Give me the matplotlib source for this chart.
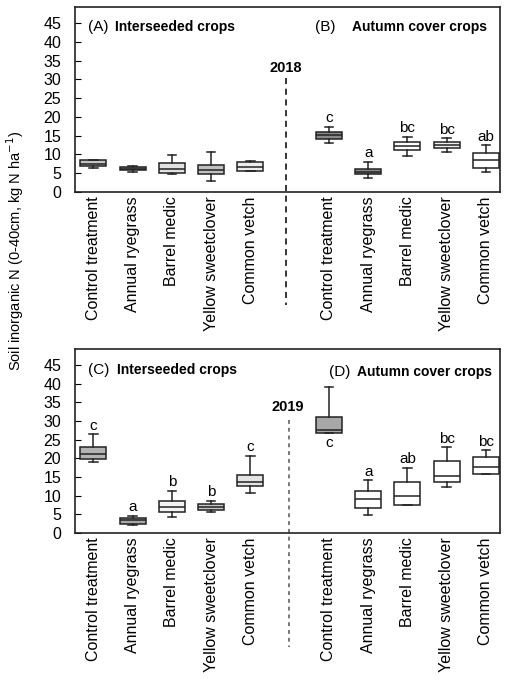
import matplotlib
matplotlib.use("Agg")
import matplotlib.pyplot as plt

plt.rcParams['font.family'] = ['Liberation Sans', 'DejaVu Sans']

categories = ["Control treatment", "Annual ryegrass", "Barrel medic",
              "Yellow sweetclover", "Common vetch"]
yticks = [0, 5, 10, 15, 20, 25, 30, 35, 40, 45]

# (A) 2018 interseeded crops
a_lo = [6.3, 5.3, 4.9, 3.0, 5.6]
a_q1 = [6.8, 5.9, 5.0, 4.7, 5.7]
a_med = [7.5, 6.2, 6.0, 5.9, 6.6]
a_q3 = [8.4, 6.6, 7.8, 7.2, 7.9]
a_hi = [8.6, 6.9, 9.8, 10.6, 8.2]
a_letters = ["", "", "", "", ""]

# (B) 2018 autumn cover crops
b_lo = [13.0, 3.8, 9.7, 10.7, 5.4]
b_q1 = [14.0, 4.8, 11.2, 11.6, 6.3]
b_med = [15.1, 5.4, 12.3, 12.6, 8.5]
b_q3 = [16.1, 6.0, 13.4, 13.4, 10.5]
b_hi = [17.4, 8.1, 14.7, 14.3, 12.5]
b_letters = ["c", "a", "bc", "bc", "ab"]

# (C) 2019 interseeded crops
c_lo = [19.1, 2.1, 4.4, 5.7, 10.8]
c_q1 = [19.8, 2.4, 5.5, 6.2, 12.6]
c_med = [21.1, 3.5, 6.9, 6.9, 13.7]
c_q3 = [23.1, 4.1, 8.7, 7.8, 15.5]
c_hi = [26.5, 4.6, 11.3, 8.6, 20.7]
c_letters = ["c", "a", "b", "b", "c"]

# (D) 2019 autumn cover crops
d_lo = [26.7, 4.8, 7.5, 12.4, 15.8]
d_q1 = [26.9, 6.6, 7.5, 13.7, 15.8]
d_med = [27.6, 9.1, 9.9, 15.3, 17.8]
d_q3 = [31.2, 11.3, 13.7, 19.3, 20.3]
d_hi = [39.0, 14.2, 17.5, 23.0, 22.2]
d_letters = ["c", "a", "ab", "bc", "bc"]

fill_2018 = ['#c4c4c4', '#8c8c8c', '#e2e2e2', '#c0c0c0', '#ececec',
             '#8a8a8a', '#8a8a8a', '#ffffff', '#f0f0f0', '#ffffff']
fill_2019 = ['#b4b4b4', '#a8a8a8', '#f2f2f2', '#c8c8c8', '#e4e4e4',
             '#a8a8a8', '#ffffff', '#ffffff', '#ffffff', '#ffffff']

pos_left = [1, 2, 3, 4, 5]
pos_right = [7, 8, 9, 10, 11]
positions = pos_left + pos_right
ticklabels = categories + categories

W, H = 510, 689
fig = plt.figure(figsize=(W / 100, H / 100), dpi=100)


def make_axes(top_px, bot_px):
    return fig.add_axes([75 / W, 1 - bot_px / H, 425 / W, (bot_px - top_px) / H])


def draw_panel(ax, lo, q1, med, q3, hi, letters, fills, below_first=False):
    stats = []
    for i in range(len(lo)):
        stats.append(dict(whislo=lo[i], q1=q1[i], med=med[i], q3=q3[i],
                          whishi=hi[i], fliers=[]))
    bp = ax.bxp(stats, positions=positions, widths=0.66, patch_artist=True,
                showfliers=False, capwidths=0.22,
                boxprops=dict(edgecolor='#222222', linewidth=1.1),
                medianprops=dict(color='#222222', linewidth=1.1),
                whiskerprops=dict(color='#222222', linewidth=1.1),
                capprops=dict(color='#222222', linewidth=1.1))
    for patch, fc in zip(bp['boxes'], fills):
        patch.set_facecolor(fc)
    for i, lab in enumerate(letters):
        if not lab:
            continue
        if below_first and i == 5:
            ax.text(positions[i], lo[i] - 0.6, lab, ha='center', va='top', fontsize=11)
        else:
            ax.text(positions[i], hi[i] + 0.4, lab, ha='center', va='bottom', fontsize=11)


def style_axes(ax):
    ax.set_xlim(0.53, 11.36)
    ax.set_ylim(0, 49.3)
    ax.set_yticks(yticks)
    ax.tick_params(axis='y', direction='in', length=4, labelsize=11.5, pad=10)
    ax.set_xticks(positions)
    ax.set_xticklabels(ticklabels, rotation=90, fontsize=11.5, va='top', ha='center')
    ax.tick_params(axis='x', length=0, pad=3)
    for s in ax.spines.values():
        s.set_linewidth(1.2)
        s.set_color('#222222')


TFS = 10  # bold panel-title size

# top panel (2018)
ax1 = make_axes(7, 192)
draw_panel(ax1, a_lo + b_lo, a_q1 + b_q1, a_med + b_med, a_q3 + b_q3,
           a_hi + b_hi, a_letters + b_letters, fill_2018)
style_axes(ax1)
ax1.plot([5.9, 5.9], [30.3, -30], color='black', lw=1.1, ls=(0, (4, 3)), clip_on=False)
ax1.text(5.9, 33.0, '2018', ha='center', va='center', fontsize=10.5, fontweight='bold')
ax1.text(0.031, 0.892, '(A)', transform=ax1.transAxes, ha='left', va='center', fontsize=11)
ax1.text(0.094, 0.892, 'Interseeded crops', transform=ax1.transAxes, ha='left',
         va='center', fontsize=TFS, fontweight='bold')
ax1.text(0.565, 0.892, '(B)', transform=ax1.transAxes, ha='left', va='center', fontsize=11)
ax1.text(0.652, 0.892, 'Autumn cover crops', transform=ax1.transAxes, ha='left',
         va='center', fontsize=TFS, fontweight='bold')

# bottom panel (2019)
ax2 = make_axes(349, 533)
draw_panel(ax2, c_lo + d_lo, c_q1 + d_q1, c_med + d_med, c_q3 + d_q3,
           c_hi + d_hi, c_letters + d_letters, fill_2019, below_first=True)
style_axes(ax2)
ax2.plot([5.98, 5.98], [30.3, -30.5], color='#777777', lw=1.4, ls=(0, (2, 2)), clip_on=False)
ax2.text(5.96, 33.75, '2019', ha='center', va='center', fontsize=10.5, fontweight='bold')
ax2.text(0.031, 0.886, '(C)', transform=ax2.transAxes, ha='left', va='center', fontsize=11)
ax2.text(0.099, 0.886, 'Interseeded crops', transform=ax2.transAxes, ha='left',
         va='center', fontsize=TFS, fontweight='bold')
ax2.text(0.598, 0.875, '(D)', transform=ax2.transAxes, ha='left', va='center', fontsize=11)
ax2.text(0.664, 0.875, 'Autumn cover crops', transform=ax2.transAxes, ha='left',
         va='center', fontsize=TFS, fontweight='bold')

fig.text(15 / W, 1 - 251 / H, 'Soil inorganic N (0-40cm, kg N ha$^{-1}$)',
         rotation=90, ha='center', va='center', fontsize=10.5)

fig.savefig('out.png', dpi=100)
